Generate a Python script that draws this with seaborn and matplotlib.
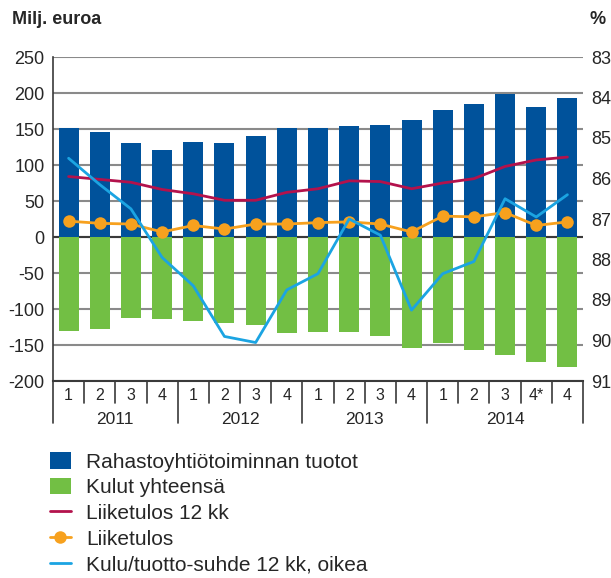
import matplotlib
matplotlib.use("Agg")
import matplotlib.pyplot as plt
import matplotlib.transforms as mtransforms
from matplotlib.patches import Patch
from matplotlib.lines import Line2D
import numpy as np
import pandas as pd
import seaborn as sns

# ---- data ----
quarters = ["1", "2", "3", "4", "1", "2", "3", "4", "1", "2", "3", "4", "1", "2", "3", "4*", "4"]
years = ["2011", "2012", "2013", "2014"]
year_sizes = [4, 4, 4, 5]
revenue = [151, 146, 131, 121, 132, 131, 140, 151, 151, 154, 156, 162, 176, 185, 199, 181, 193]
costs = [-130, -128, -113, -114, -116, -120, -122, -133, -132, -132, -138, -154, -147, -157, -164, -174, -181]
profit_12m = [84, 80, 76, 66, 60, 51, 51, 62, 67, 78, 77, 67, 75, 81, 98, 107, 111]
profit = [22, 19, 18, 7, 16, 11, 18, 18, 20, 21, 18, 7, 29, 28, 34, 16, 21]
cost_ratio = [85.5, 86.15, 86.75, 87.95, 88.65, 89.9, 90.05, 88.75, 88.35, 87.0, 87.4, 89.25, 88.35, 88.05, 86.5, 86.95, 86.4]

labels = ["Rahastoyhtiötoiminnan tuotot", "Kulut yhteensä", "Liiketulos 12 kk",
          "Liiketulos", "Kulu/tuotto-suhde 12 kk, oikea"]

c_blue = "#00529b"
c_green = "#72bf44"
c_red = "#b3124c"
c_orange = "#f7a11e"
c_lblue = "#1ba4e2"
c_grid = "#8a8a8a"
c_dark = "#3a3a3a"
c_text = "#262626"

sns.set_style("white")
plt.rcParams["font.family"] = ["Liberation Sans", "DejaVu Sans"]

pos = np.arange(len(quarters))
df = pd.DataFrame({"pos": pos, "revenue": revenue, "costs": costs,
                   "profit_12m": profit_12m, "profit": profit, "ratio": cost_ratio})

W, H = 611, 578
fig = plt.figure(figsize=(W / 100, H / 100), dpi=100)
left, right, top, bottom = 53, 583, 57, 381
ax = fig.add_axes([left / W, 1 - bottom / H, (right - left) / W, (bottom - top) / H])

ax.set_axisbelow(True)
sns.barplot(data=df, x="pos", y="revenue", native_scale=True, width=0.64, color=c_blue,
            saturation=1, linewidth=0, errorbar=None, ax=ax, zorder=2)
sns.barplot(data=df, x="pos", y="costs", native_scale=True, width=0.64, color=c_green,
            saturation=1, linewidth=0, errorbar=None, ax=ax, zorder=2)
sns.lineplot(data=df, x="pos", y="profit_12m", color=c_red, lw=2, ax=ax, zorder=4)
sns.lineplot(data=df, x="pos", y="profit", color=c_orange, lw=2, marker="o", markersize=9,
             markeredgewidth=0, ax=ax, zorder=5)

ax.set_xlim(-0.5, len(quarters) - 0.5)
ax.set_ylim(-200, 250)
ax.set_yticks(np.arange(-200, 251, 50))
ax.set_yticklabels([str(v) for v in range(-200, 251, 50)])
ax.yaxis.grid(True, color=c_grid, lw=1.5)
ax.xaxis.grid(False)
ax.axhline(0, color=c_dark, lw=1.5, zorder=1)
ax.set_xlabel("")
ax.set_ylabel("")
ax.tick_params(axis="y", length=0, pad=6, labelsize=13, labelcolor=c_text)
ax.set_xticks(pos)
ax.set_xticklabels(quarters)
ax.tick_params(axis="x", length=0, pad=5, labelsize=11.5, labelcolor=c_text)
for s in ["top", "right"]:
    ax.spines[s].set_visible(False)
ax.spines["left"].set_color(c_dark)
ax.spines["left"].set_linewidth(1.2)
ax.spines["bottom"].set_color(c_dark)
ax.spines["bottom"].set_linewidth(1.5)

# separators under the x axis
trans = mtransforms.blended_transform_factory(ax.transData, ax.transAxes)
ph = bottom - top
short = 22 / ph
long_ = 42 / ph
bounds = np.cumsum([0] + year_sizes) - 0.5
year_b = set(np.round(bounds, 2))
for b in np.arange(-0.5, len(quarters), 1.0):
    L = long_ if round(b, 2) in year_b else short
    ax.plot([b, b], [0, -L], transform=trans, color=c_dark, lw=1.2, clip_on=False)
for i, y in enumerate(years):
    cx = (bounds[i] + bounds[i + 1]) / 2
    ax.text(cx, -39 / ph, y, transform=trans, ha="center", va="center", fontsize=12.5, color=c_text)

# right axis
ax2 = ax.twinx()
sns.lineplot(data=df, x="pos", y="ratio", color=c_lblue, lw=2, ax=ax2, zorder=6)
ax2.set_ylim(91, 83)
ax2.set_yticks(range(83, 92))
ax2.set_yticklabels([str(v) for v in range(83, 92)])
ax2.tick_params(axis="y", length=0, pad=6, labelsize=13, labelcolor=c_text)
ax2.set_ylabel("")
for s in ax2.spines.values():
    s.set_visible(False)
ax2.grid(False)

fig.text(12 / W, 1 - 20 / H, "Milj. euroa", fontsize=13, fontweight="bold", va="center", ha="left", color=c_text)
fig.text(606 / W, 1 - 20 / H, "%", fontsize=13, fontweight="bold", va="center", ha="right", color=c_text)

handles = [Patch(facecolor=c_blue, edgecolor="none"),
           Patch(facecolor=c_green, edgecolor="none"),
           Line2D([], [], color=c_red, lw=2),
           Line2D([], [], color=c_orange, lw=2, marker="o", markersize=9, markeredgewidth=0),
           Line2D([], [], color=c_lblue, lw=2)]
fig.legend(handles, labels, loc="upper left", bbox_to_anchor=(50 / W, 1 - 452 / H),
           frameon=False, fontsize=15, handlelength=1.0, handleheight=0.85,
           handletextpad=0.75, labelspacing=0.3, borderaxespad=0, borderpad=0,
           labelcolor=c_text)

fig.savefig("out.png", dpi=100)
